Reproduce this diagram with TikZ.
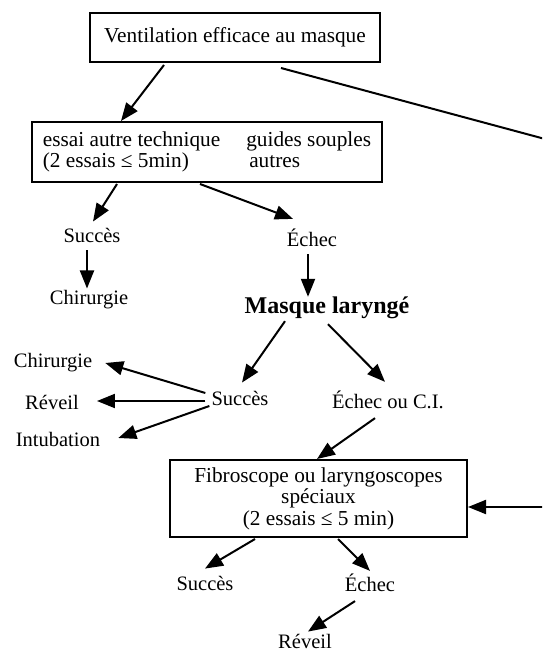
\documentclass[tikz,border=0pt]{standalone}
\usepackage{fontspec}
\setmainfont{Liberation Serif}
\usetikzlibrary{arrows.meta}
\begin{document}
\begin{tikzpicture}[x=1pt,y=-1pt,
  every node/.style={font=\fontsize{20.5}{23}\selectfont},
  lbl/.style={inner sep=2pt},
  boxnode/.style={draw,line width=2pt,inner sep=0pt,align=center,font=\fontsize{21.3}{23}\selectfont},
  arr/.style={line width=2pt,-{Triangle[length=18pt,width=14pt]}},
  ln/.style={line width=2pt}]
\useasboundingbox (0,0) rectangle (542,652);
\clip (0,0) rectangle (542,652);
% nodes
\node[boxnode,minimum width=290pt,minimum height=49pt] (top) at (235,37.5) {Ventilation efficace au masque};
\node[boxnode,minimum width=350pt,minimum height=60pt] (b2) at (207,152)
  {\begin{tabular}{@{}l@{\hspace{26pt}}l@{}}essai autre technique & guides souples\\[-2pt] (2 essais ≤ 5min) & \hspace{3pt}autres\end{tabular}};
\node[lbl] (s1) at (92,235) {Succès};
\node[lbl] (c1) at (89,300) {Chirurgie};
\node[lbl] (e1) at (312,238) {Échec};
\node[lbl,font=\fontsize{24}{26}\selectfont\bfseries] (ml) at (327,308) {Masque laryngé};
\node[lbl] (s2) at (240,398) {Succès};
\node[lbl] (eci) at (388,400) {Échec ou C.I.};
\node[lbl] (c2) at (53,363) {Chirurgie};
\node[lbl] (rv2) at (52,402) {Réveil};
\node[lbl] (int) at (58,439) {Intubation};
\node[boxnode,minimum width=297pt,minimum height=77pt] (b3) at (318.5,498.5)
  {Fibroscope ou laryngoscopes\\[-1.5pt] spéciaux\\[-1.5pt] (2 essais ≤ 5 min)};
\node[lbl] (s3) at (205,583) {Succès};
\node[lbl] (e3) at (370,583) {Échec};
\node[lbl] (rv3) at (305,641) {Réveil};
\coordinate (r1) at (545,139);
\coordinate (r2) at (545,507);
% connectors
\draw[arr] ([xshift=-71pt,yshift=-2pt]top.south) -- ([xshift=-86pt]b2.north);
\draw[ln] ([xshift=46pt,yshift=-5pt]top.south) -- (r1);
\draw[arr] ([xshift=-90pt,yshift=-1pt]b2.south) -- ([xshift=1pt,yshift=4pt]s1.north);
\draw[arr] ([xshift=-7pt,yshift=-1pt]b2.south) -- ([xshift=-19pt,yshift=8pt]e1.north);
\draw[arr] ([xshift=-5pt,yshift=-6pt]s1.south) -- ([xshift=-2pt]c1.north);
\draw[arr] ([xshift=-4pt,yshift=-5pt]e1.south) -- ([xshift=-19pt,yshift=-2pt]ml.north);
\draw[arr] ([xshift=-42pt]ml.south) -- ([xshift=2pt,yshift=6pt]s2.north);
\draw[arr] ([xshift=1pt,yshift=-3pt]ml.south) -- ([xshift=-3pt,yshift=7pt]eci.north);
\draw[arr] ([xshift=-4pt,yshift=5pt]s2.west) -- ([xshift=11pt]c2.east);
\draw[arr] ([xshift=-4pt,yshift=-3pt]s2.west) -- ([xshift=16pt,yshift=1pt]rv2.east);
\draw[arr] ([yshift=-8pt]s2.west) -- ([xshift=16pt,yshift=1pt]int.east);
\draw[arr] ([xshift=-13pt,yshift=-7pt]eci.south) -- ([xshift=-1.5pt]b3.north);
\draw[arr] (r2) -- ([yshift=-8.5pt]b3.east);
\draw[arr] ([xshift=-63.5pt,yshift=-1pt]b3.south) -- ([yshift=5pt]s3.north);
\draw[arr] ([xshift=19.5pt,yshift=-1pt]b3.south) -- ([yshift=1pt]e3.north);
\draw[arr] ([xshift=-15pt,yshift=-7pt]e3.south) -- ([xshift=3pt,yshift=0pt]rv3.north);
\end{tikzpicture}
\end{document}
